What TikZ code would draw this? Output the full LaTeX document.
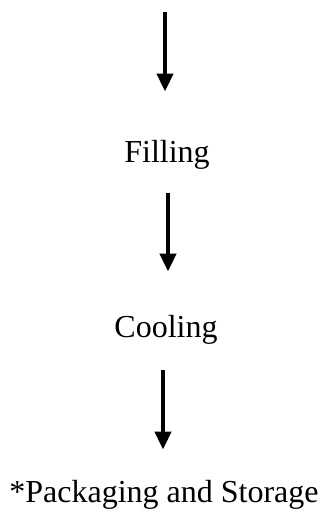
\documentclass[tikz,border=0pt]{standalone}
\usepackage{fontspec}
\setmainfont{Liberation Serif}
\usetikzlibrary{arrows.meta}

\begin{document}
\begin{tikzpicture}[x=1pt, y=-1pt
    , every node/.style={inner sep=0pt, anchor=base
        , font=\fontsize{32}{38}\selectfont}
    , flow/.style={line width=4pt
        , -{Triangle[width=16pt, length=18pt]}}
    ]

    \useasboundingbox (0,0) rectangle (324,515);

    % the steps
    \node (filling) at (167,162) {Filling};
    \node (cooling) at (166,337) {Cooling};
    \node (packaging) at (164,502) {*Packaging and Storage};

    %% arrows between them
    \coordinate (start) at (165,12);
    \draw[flow, shorten >=48pt] (start) -- (start |- filling.north);
    \draw[flow
        , shorten <=24pt
        , shorten >=43pt
    ] ([xshift=1pt]filling.south) -- ([xshift=2pt]cooling.north);
    \draw[flow
        , shorten <=26pt
        , shorten >=30pt
    ] ([xshift=-3pt]cooling.south) -- ([xshift=-1pt]packaging.north);

\end{tikzpicture}
\end{document}
